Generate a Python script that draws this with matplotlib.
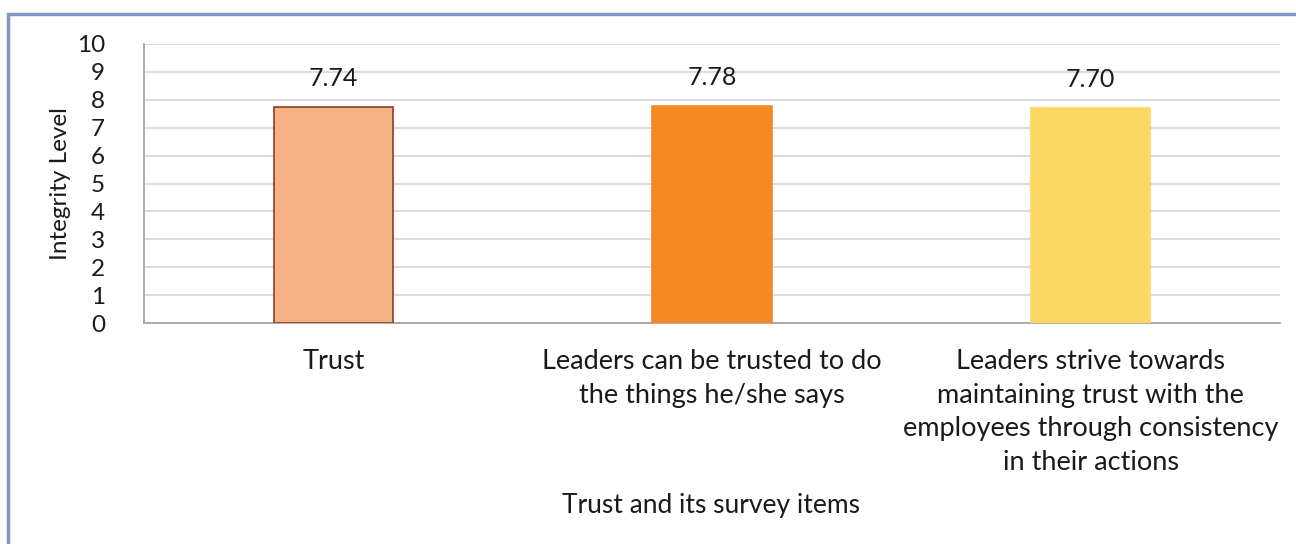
import matplotlib.pyplot as plt
from matplotlib.patches import Rectangle

plt.rcParams['font.family'] = ['Lato', 'DejaVu Sans']

categories = ["Trust",
              "Leaders can be trusted to do\nthe things he/she says",
              "Leaders strive towards\nmaintaining trust with the\nemployees through consistency\nin their actions"]
values = [7.74, 7.78, 7.70]
value_labels = ["7.74", "7.78", "7.70"]
colors = ["#F4B183", "#F28A21", "#FDD866"]
edges = ["#8B4020", "#F28A21", "#FDD866"]

fig = plt.figure(figsize=(12.96, 5.44), dpi=100)
ax = fig.add_axes([144 / 1296, 1 - 323 / 544, 1136 / 1296, 279 / 544])

x = range(len(categories))
bars = ax.bar(x, values, width=0.315, color=colors, edgecolor=edges, linewidth=1.2, zorder=3)
for b, lab in zip(bars, value_labels):
    ax.text(b.get_x() + b.get_width() / 2, b.get_height() + 0.6, lab,
            ha='center', va='bottom', fontsize=18, color='#1a1a1a')

ax.set_xlim(-0.5, 2.5)
ax.set_ylim(0, 10)
ax.set_yticks(range(0, 11))
ax.yaxis.grid(True, color='#D9D9D9', linewidth=1.3, zorder=0)
ax.set_axisbelow(True)
ax.tick_params(axis='y', length=0, labelsize=17.5, pad=28, labelcolor='#1a1a1a')
ax.tick_params(axis='x', length=0, labelsize=19.5, pad=19, labelcolor='#1a1a1a')
ax.set_xticks(list(x))
ax.set_xticklabels(categories, linespacing=1.42, va='top')
for s in ['top', 'right']:
    ax.spines[s].set_visible(False)
for s in ['left', 'bottom']:
    ax.spines[s].set_color('#A6A6A6')
    ax.spines[s].set_linewidth(1.3)

ax.set_ylabel("Integrity Level", fontsize=17.5, labelpad=4, color='#1a1a1a')
fig.text(711 / 1296, 1 - 505 / 544, "Trust and its survey items",
         ha='center', va='center', fontsize=19, color='#1a1a1a')

# outer frame of the chart area
fig.patches.append(Rectangle((8 / 1296, -0.1), 1.2, 1 - 14 / 544 + 0.1,
                             transform=fig.transFigure, fill=False,
                             edgecolor='#8497C4', linewidth=2.5))

fig.savefig("out.png", dpi=100)
